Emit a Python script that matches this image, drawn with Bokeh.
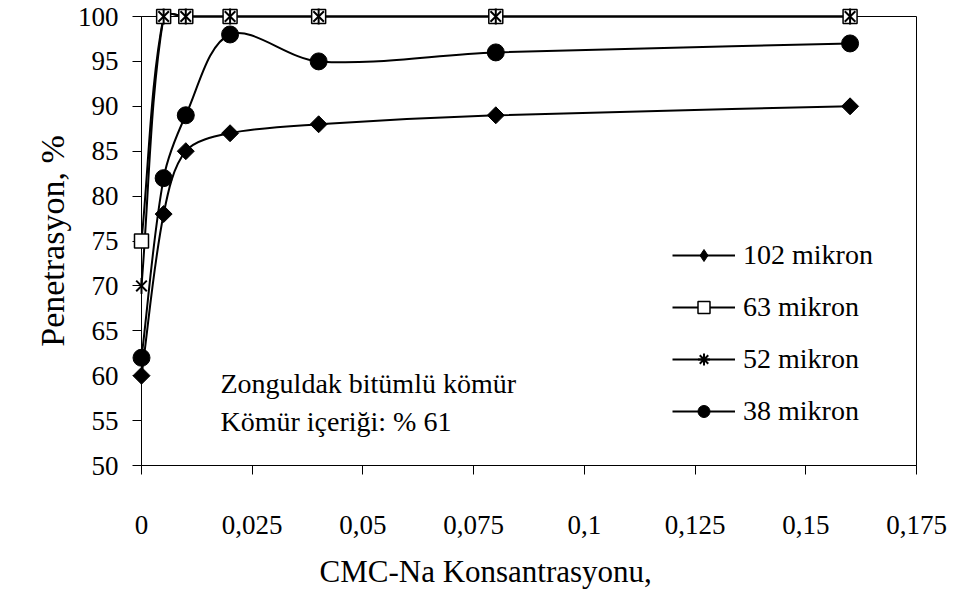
import math
from bokeh.plotting import figure
from bokeh.models import Range1d, FixedTicker, Legend, LegendItem, Label, Title
from bokeh.embed import file_html
from bokeh.resources import INLINE

# ---- data ----
conc = [0, 0.005, 0.01, 0.02, 0.04, 0.08, 0.16]
pen_102 = [60, 78, 85, 87, 88, 89, 90]
pen_63 = [75, 100, 100, 100, 100, 100, 100]
pen_52 = [70, 100, 100, 100, 100, 100, 100]
pen_38 = [62, 82, 89, 98, 95, 96, 97]
series_names = ["102 mikron", "63 mikron", "52 mikron", "38 mikron"]
x_ticks = [0, 0.025, 0.05, 0.075, 0.1, 0.125, 0.15, 0.175]
x_tick_labels = ["0", "0,025", "0,05", "0,075", "0,1", "0,125", "0,15", "0,175"]
y_ticks = [50, 55, 60, 65, 70, 75, 80, 85, 90, 95, 100]
x_title = "CMC-Na Konsantrasyonu,"
y_title = "Penetrasyon, %"
note_lines = ["Zonguldak bitümlü kömür", "Kömür içeriği: % 61"]

FONT = "Liberation Serif"
W, H = 953, 603
ML, MR, MT, MB = 141, 37, 16, 136
X0, X1, Y0, Y1 = 0, 0.175, 50, 100
sx = (W - ML - MR) / (X1 - X0)
sy = (H - MT - MB) / (Y1 - Y0)


def dx(px):   # screen x (from left) -> data x
    return X0 + (px - ML) / sx


def dy(py):   # screen y (from top) -> data y
    return Y1 - (py - MT) / sy


p = figure(width=W, height=H, output_backend="svg", toolbar_location=None,
           x_range=Range1d(X0, X1), y_range=Range1d(Y0, Y1),
           min_border_left=ML, min_border_right=MR, min_border_top=MT, min_border_bottom=MB)
p.background_fill_color = "white"
p.border_fill_color = "white"
p.outline_line_color = "black"
p.outline_line_width = 1
p.xgrid.visible = False
p.ygrid.visible = False

for ax in (p.xaxis[0], p.yaxis[0]):
    ax.axis_line_color = "black"
    ax.major_tick_line_color = "black"
    ax.minor_tick_line_color = None
    ax.major_tick_in = 0
    ax.major_tick_out = 9
    ax.major_label_text_font = FONT
    ax.major_label_text_font_size = "27px"
    ax.major_label_text_color = "black"

p.xaxis.ticker = FixedTicker(ticks=x_ticks)
p.xaxis.major_label_overrides = {t: l for t, l in zip(x_ticks, x_tick_labels)}
p.xaxis.major_label_standoff = 41
p.yaxis.ticker = FixedTicker(ticks=y_ticks)
p.yaxis.major_label_standoff = 14
p.yaxis.axis_label = y_title
p.yaxis.axis_label_text_font = FONT
p.yaxis.axis_label_text_font_size = "34px"
p.yaxis.axis_label_text_font_style = "normal"
p.yaxis.axis_label_text_color = "black"
p.yaxis.axis_label_standoff = 4

p.add_layout(Title(text=x_title, align="left", offset=178, standoff=30,
                   text_font=FONT, text_font_size="31px", text_font_style="normal",
                   text_color="black"), "below")


def smooth_segments(xs, ys):
    P = [(x * sx, y * sy) for x, y in zip(xs, ys)]
    n = len(P)
    d = [math.hypot(P[i + 1][0] - P[i][0], P[i + 1][1] - P[i][1]) for i in range(n - 1)]
    out = dict(x0=[], y0=[], x1=[], y1=[], cx0=[], cy0=[], cx1=[], cy1=[])
    t = 1.0 / 3.0
    for i in range(n - 1):
        a, b = P[i], P[i + 1]
        if i == 0:
            c0 = (a[0] + (b[0] - a[0]) * t, a[1] + (b[1] - a[1]) * t)
        else:
            f = t * d[i] / (d[i - 1] + d[i])
            c0 = (a[0] + (b[0] - P[i - 1][0]) * f, a[1] + (b[1] - P[i - 1][1]) * f)
        if i == n - 2:
            c1 = (b[0] - (b[0] - a[0]) * t, b[1] - (b[1] - a[1]) * t)
        else:
            f = t * d[i] / (d[i] + d[i + 1])
            c1 = (b[0] - (P[i + 2][0] - a[0]) * f, b[1] - (P[i + 2][1] - a[1]) * f)
        out["x0"].append(a[0] / sx); out["y0"].append(a[1] / sy)
        out["x1"].append(b[0] / sx); out["y1"].append(b[1] / sy)
        out["cx0"].append(c0[0] / sx); out["cy0"].append(c0[1] / sy)
        out["cx1"].append(c1[0] / sx); out["cy1"].append(c1[1] / sy)
    return out


series = dict(zip(series_names, [pen_102, pen_63, pen_52, pen_38]))
legend_rends = {name: [] for name in series_names}

# smooth curves + a one-point line per series (draws nothing, gives the legend its line)
for name in series_names:
    ys = series[name]
    p.bezier(line_color="black", line_width=2, level="overlay", **smooth_segments(conc, ys))
    legend_rends[name].append(p.line(x=conc[-1:], y=ys[-1:], line_color="black", line_width=2))

# legend-only marker shapes, drawn under the plotted markers at the last point
legend_rends["102 mikron"].append(
    p.scatter(conc[-1:], series["102 mikron"][-1:], marker="diamond", size=15,
              fill_color="black", line_color="black", level="overlay"))
legend_rends["52 mikron"].append(
    p.scatter(conc[-1:], series["52 mikron"][-1:], marker="asterisk", size=13,
              line_color="black", line_width=2, level="overlay"))

# plotted markers
p.scatter(conc, series["102 mikron"], marker="square", size=12, angle=math.pi / 4,
          fill_color="black", line_color="black", level="overlay")
legend_rends["63 mikron"].append(
    p.scatter(conc, series["63 mikron"], marker="square", size=14, fill_color="white",
              line_color="black", line_width=1.5, level="overlay"))
p.scatter(conc, series["52 mikron"], marker="x", size=15, line_color="black",
          line_width=2, level="overlay")
p.scatter(conc, series["52 mikron"], marker="dash", size=16, angle=math.pi / 2,
          line_color="black", line_width=2, level="overlay")
legend_rends["38 mikron"].append(
    p.scatter(conc, series["38 mikron"], marker="circle", size=17, fill_color="black",
              line_color="black", level="overlay"))

items = [LegendItem(label=name, renderers=legend_rends[name]) for name in series_names]
legend = Legend(items=items, location=(531, 38), orientation="vertical",
                glyph_width=63, glyph_height=30, label_height=30, spacing=20,
                label_standoff=8, padding=0, margin=0,
                label_text_font=FONT, label_text_font_size="28px",
                label_text_color="black",
                background_fill_alpha=0, border_line_color=None)
p.add_layout(legend, "center")

p.add_layout(Label(x=dx(220), y=dy(385), text=note_lines[0], text_font=FONT,
                   text_font_size="28px", text_baseline="alphabetic", text_color="black"))
p.add_layout(Label(x=dx(220), y=dy(423), text=note_lines[1], text_font=FONT,
                   text_font_size="28px", text_baseline="alphabetic", text_color="black"))

open("out.html", "w").write(file_html(p, INLINE))
